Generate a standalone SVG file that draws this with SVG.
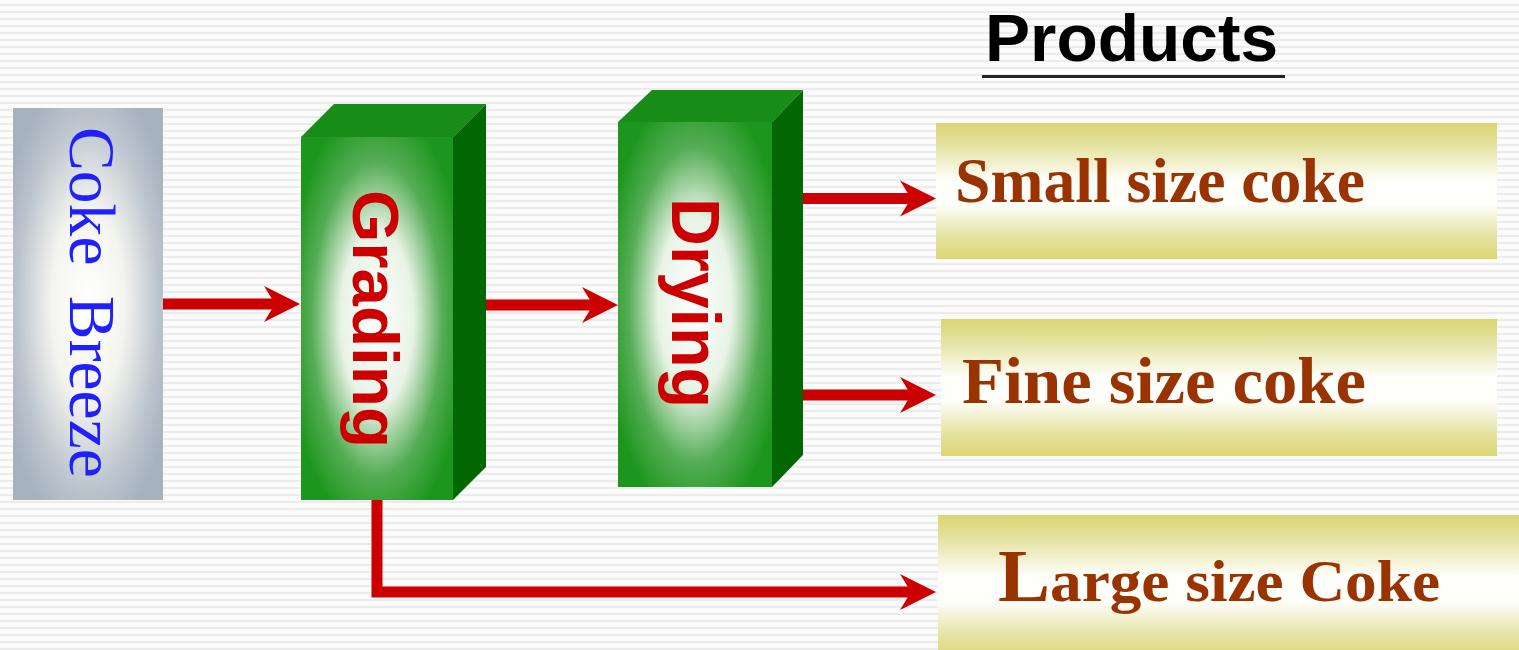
<svg xmlns="http://www.w3.org/2000/svg" width="1519" height="650" viewBox="0 0 1519 650">
  <defs>
    <pattern id="stripes" x="0" y="0" width="20" height="7" patternUnits="userSpaceOnUse">
      <rect width="20" height="7" fill="#fbfbfb"/>
      <rect y="4" width="20" height="2" fill="#ececec"/>
    </pattern>
    <radialGradient id="grayGrad" cx="0.5" cy="0.5" r="0.6">
      <stop offset="0" stop-color="#ffffff"/>
      <stop offset="0.4" stop-color="#f4f5f0"/>
      <stop offset="0.78" stop-color="#bcc5ce"/>
      <stop offset="1" stop-color="#a7b2bf"/>
    </radialGradient>
    <radialGradient id="greenGrad" cx="0.5" cy="0.5" r="0.6">
      <stop offset="0" stop-color="#ffffff"/>
      <stop offset="0.4" stop-color="#e8f3e6"/>
      <stop offset="0.72" stop-color="#55ad55"/>
      <stop offset="1" stop-color="#1c961c"/>
    </radialGradient>
    <linearGradient id="yellowGrad" x1="0" y1="0" x2="0" y2="1">
      <stop offset="0" stop-color="#dad671"/>
      <stop offset="0.18" stop-color="#e6e4a6"/>
      <stop offset="0.42" stop-color="#fefefa"/>
      <stop offset="0.6" stop-color="#fefefa"/>
      <stop offset="0.82" stop-color="#e6e4a6"/>
      <stop offset="1" stop-color="#dad671"/>
    </linearGradient>
    <path id="head" d="M0,0 L-36,-18 L-25,0 L-36,18 Z" fill="#cc0000"/>
    <style>
      .box3dTop { fill: #178c17; }
      .box3dSide { fill: #036703; }
      .proc { font-family: "Liberation Sans", Arial, sans-serif; font-weight: bold; fill: #cc0000; }
      .prod { font-family: "Liberation Serif", "Times New Roman", serif; font-weight: bold; fill: #993300; }
      .conn { fill: none; stroke: #cc0000; stroke-width: 11; }
    </style>
  </defs>

  <rect width="1519" height="650" fill="url(#stripes)"/>

  <g id="title">
    <text x="985" y="61" font-family="Liberation Sans, Arial, sans-serif" font-weight="bold" font-size="67" fill="#000" textLength="293" lengthAdjust="spacingAndGlyphs">Products</text>
    <line x1="982" y1="76.5" x2="1285" y2="76.5" stroke="#222" stroke-width="3"/>
  </g>

  <g id="coke-breeze">
    <rect x="13" y="108" width="150" height="392" fill="url(#grayGrad)"/>
    <text transform="translate(70,302.5) rotate(90)" text-anchor="middle" font-family="Liberation Serif, 'Times New Roman', serif" font-size="66" fill="#1f1fff" textLength="351" lengthAdjust="spacingAndGlyphs" word-spacing="14">Coke Breeze</text>
  </g>

  <g id="grading">
    <polygon class="box3dTop" points="301,137 334,104 486,104 453,137"/>
    <polygon class="box3dSide" points="453,137 486,104 486,467 453,500"/>
    <rect x="301" y="137" width="152" height="363" fill="url(#greenGrad)"/>
    <text class="proc" transform="translate(353,319) rotate(90)" text-anchor="middle" font-size="64" textLength="258" lengthAdjust="spacingAndGlyphs">Grading</text>
  </g>

  <g id="drying">
    <polygon class="box3dTop" points="618,122 652,90 803,90 772,122"/>
    <polygon class="box3dSide" points="772,122 803,90 803,455 772,487"/>
    <rect x="618" y="122" width="154" height="365" fill="url(#greenGrad)"/>
    <text class="proc" transform="translate(672,303) rotate(90)" text-anchor="middle" font-size="68" textLength="210" lengthAdjust="spacingAndGlyphs">Drying</text>
  </g>

  <g id="small-size-coke">
    <rect x="936" y="123" width="561" height="136" fill="url(#yellowGrad)"/>
    <text class="prod" x="955" y="202" font-size="64" textLength="410" lengthAdjust="spacingAndGlyphs">Small size coke</text>
  </g>

  <g id="fine-size-coke">
    <rect x="941" y="319" width="556" height="137" fill="url(#yellowGrad)"/>
    <text class="prod" x="962" y="403" font-size="66" textLength="404" lengthAdjust="spacingAndGlyphs">Fine size coke</text>
  </g>

  <g id="large-size-coke">
    <rect x="938" y="515" width="581" height="145" fill="url(#yellowGrad)"/>
    <text class="prod" x="998" y="601" font-size="60" textLength="442" lengthAdjust="spacingAndGlyphs"><tspan font-size="74">L</tspan>arge size Coke</text>
  </g>

  <g id="connectors">
    <line class="conn" x1="163" y1="304" x2="280" y2="304"/>
    <use href="#head" transform="translate(300,304)"/>
    <line class="conn" x1="486" y1="305" x2="598" y2="305"/>
    <use href="#head" transform="translate(618,305)"/>
    <line class="conn" x1="803" y1="198.5" x2="916" y2="198.5"/>
    <use href="#head" transform="translate(936,198.5)"/>
    <line class="conn" x1="803" y1="395" x2="916" y2="395"/>
    <use href="#head" transform="translate(936,395)"/>
    <path class="conn" d="M377,500 V592 H916"/>
    <use href="#head" transform="translate(936,592)"/>
  </g>
</svg>
